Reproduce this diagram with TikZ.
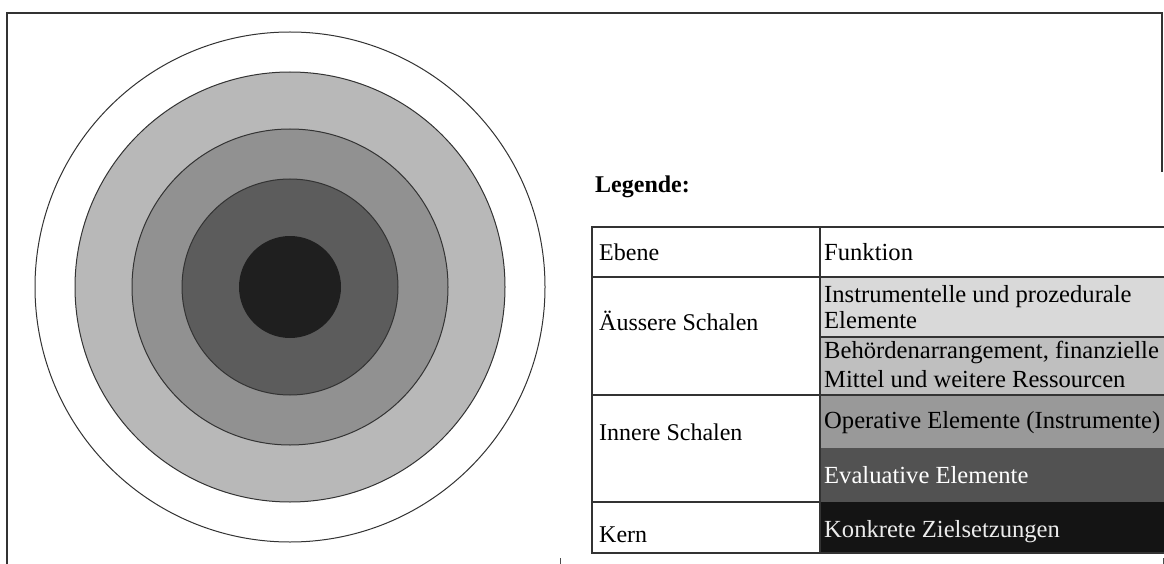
\documentclass[tikz,border=0pt]{standalone}
\usepackage{fontspec}
\setmainfont{Liberation Serif}
\definecolor{ringA}{gray}{0.72}
\definecolor{ringB}{gray}{0.57}
\definecolor{ringC}{gray}{0.36}
\definecolor{ringD}{gray}{0.12}
\definecolor{fillA}{gray}{0.85}
\definecolor{fillB}{gray}{0.75}
\definecolor{fillC}{gray}{0.60}
\definecolor{fillD}{gray}{0.32}
\definecolor{fillE}{gray}{0.08}
\begin{document}
\begin{tikzpicture}[x=1pt,y=-1pt,
  frameline/.style={line width=1.8pt, draw=black!80},
  ring/.style={draw=black!80, line width=1pt},
  cell/.style={draw=black!80, line width=1.3pt},
  txt/.style={inner sep=0pt, anchor=base west, font=\fontsize{24}{26}\selectfont},
  rtxt/.style={txt, font=\fontsize{24.6}{27}\selectfont},
  wtxt/.style={rtxt, text=white},
]
\useasboundingbox (0,0) rectangle (1164,564);
\fill[white] (0,0) rectangle (1164,564);
% frame
\draw[frameline] (7,575) -- (7,13) -- (1162,13) -- (1162,172);
% rings
\coordinate (c) at (290,287);
\draw[ring, fill=white] (c) circle[radius=255pt];
\draw[ring, fill=ringA] (c) circle[radius=215pt];
\draw[ring, fill=ringB] (c) circle[radius=158pt];
\draw[ring, fill=ringC] (c) circle[radius=108pt];
\fill[ringD] (c) circle[radius=51pt];
% legend title
\node[txt, font=\fontsize{24}{26}\selectfont\bfseries] (leg) at (595,193) {Legende:};
% table fills
\fill[fillA] (820,277) rectangle (1170,337);
\fill[fillB] (820,337) rectangle (1170,395);
\fill[fillC] (820,395) rectangle (1170,448);
\fill[fillD] (820,448) rectangle (1170,502);
\fill[fillE] (820,502) rectangle (1170,553);
% table grid
\draw[cell] (592,227) rectangle (820,277);
\draw[cell] (592,277) rectangle (820,395);
\draw[cell] (592,395) rectangle (820,502);
\draw[cell] (592,502) rectangle (820,553);
\draw[cell] (820,227) -- (1170,227);
\draw[cell] (820,277) -- (1170,277);
\draw[cell] (820,337) -- (1170,337);
\draw[cell] (820,395) -- (1170,395);
\draw[cell] (820,553) -- (1170,553);
% left column text
\node[txt] (ebene) at (599,260) {Ebene};
\node[txt] (aussen) at (599,330) {Äussere Schalen};
\node[txt] (innen) at (599,440) {Innere Schalen};
\node[txt] (kern) at (599,542) {Kern};
% right column text
\node[rtxt] (funk) at (824,260) {Funktion};
\node[rtxt] (f1a) at (824,302) {Instrumentelle und prozedurale};
\node[rtxt] (f1b) at (824,328) {Elemente};
\node[rtxt] (f2a) at (824,358) {Behördenarrangement, finanzielle};
\node[rtxt] (f2b) at (824,387) {Mittel und weitere Ressourcen};
\node[rtxt] (f3) at (824,428) {Operative Elemente (Instrumente)};
\node[wtxt] (f4) at (824,483) {Evaluative Elemente};
\node[wtxt, text=gray!15] (f5) at (824,537) {Konkrete Zielsetzungen};
% small marks at bottom edge
\draw[black!70, line width=1pt] (560,558) -- (560,564);
\draw[black!70, line width=1pt] (1163,558) -- (1163,564);
\end{tikzpicture}
\end{document}
